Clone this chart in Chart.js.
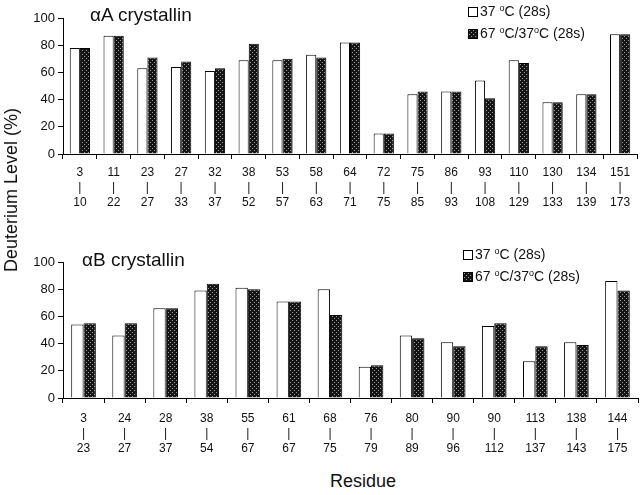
<!DOCTYPE html>
<html>
<head>
<meta charset="utf-8">
<script src="https://cdn.jsdelivr.net/npm/chart.js@4.4.0/dist/chart.umd.min.js"></script>
<style>
  body { margin: 0; background: #fff; font-family: "Liberation Sans", Arial, sans-serif; color: #111; }
  #wrap { position: relative; width: 640px; height: 495px; overflow: hidden; }
  canvas { position: absolute; left: 0; }
  .title { position: absolute; font-size: 19px; line-height: 1; white-space: nowrap; }
  .leg { position: absolute; font-size: 14px; line-height: 1; white-space: nowrap; }
  .leg span.box { display: inline-block; width: 8px; height: 8px; border: 1px solid #000; margin-right: 2px; vertical-align: -1px; background: #fff; }
  .leg sup { font-size: 9px; vertical-align: 5px; line-height: 0; }
  .axis-title { position: absolute; font-size: 18px; white-space: nowrap; line-height: 1; }
</style>
</head>
<body>
<div id="wrap">
  <canvas id="chartA" width="640" height="215" style="top:0"></canvas>
  <canvas id="chartB" width="640" height="215" style="top:240px"></canvas>

  <div class="title" style="left:90px; top:5px">&alpha;A crystallin</div>
  <div class="title" style="left:82px; top:250px">&alpha;B crystallin</div>

  <div class="leg" style="left:468px; top:4px"><span class="box"></span>37 <sup>o</sup>C (28s)</div>
  <div class="leg" style="left:468px; top:26px"><span class="box dark"></span>67 <sup>o</sup>C/37<sup>o</sup>C (28s)</div>
  <div class="leg" style="left:463px; top:247px"><span class="box"></span>37 <sup>o</sup>C (28s)</div>
  <div class="leg" style="left:463px; top:269px"><span class="box dark"></span>67 <sup>o</sup>C/37<sup>o</sup>C (28s)</div>

  <div class="axis-title" style="left:11px; top:190px; transform: translate(-50%,-50%) rotate(-90deg)">Deuterium Level (%)</div>
  <div class="axis-title" style="left:363px; top:481px; transform: translate(-50%,-50%)">Residue</div>
</div>
<script>
// alpha A crystallin, residue ranges and deuterium levels
const aStart = [3, 11, 23, 27, 32, 38, 53, 58, 64, 72, 75, 86, 93, 110, 130, 134, 151];
const aEnd   = [10, 22, 27, 33, 37, 52, 57, 63, 71, 75, 85, 93, 108, 129, 133, 139, 173];
const a37    = [78, 87, 63, 64, 61, 69, 69, 73, 82, 15, 44, 46, 54, 69, 38, 44, 88];
const a67    = [78, 87, 71, 68, 63, 81, 70, 71, 82, 15, 46, 46, 41, 67, 38, 44, 88];

// alpha B crystallin
const bStart = [3, 24, 28, 38, 55, 61, 68, 76, 80, 90, 90, 113, 138, 144];
const bEnd   = [23, 27, 37, 54, 67, 67, 75, 79, 89, 96, 112, 137, 143, 175];
const b37    = [54, 46, 66, 79, 81, 71, 80, 23, 46, 41, 53, 27, 41, 86];
const b67    = [55, 55, 66, 84, 80, 71, 61, 24, 44, 38, 55, 38, 39, 79];

const seriesNames = ['37 \u00B0C (28s)', '67 \u00B0C/37\u00B0C (28s)'];
const yMin = 0, yMax = 100, yStep = 20;

// dotted dark fill like the scanned figure
const tile = document.createElement('canvas');
tile.width = 4; tile.height = 4;
const tctx = tile.getContext('2d');
tctx.fillStyle = '#151515';
tctx.fillRect(0, 0, 4, 4);
tctx.fillStyle = '#999';
tctx.fillRect(0, 0, 1, 1);
tctx.fillRect(2, 2, 1, 1);
const dots = tctx.createPattern(tile, 'repeat');
document.querySelectorAll('.box.dark').forEach(function (el) {
    el.style.backgroundImage = 'url(' + tile.toDataURL() + ')';
});

const font = 'Liberation Sans, Arial, sans-serif';

function makeChart(id, starts, ends, v1, v2, padTop, padRight, xHeight, xPad) {
    const labels = starts.map(function (s, i) { return [String(s), '|', String(ends[i])]; });
    return new Chart(document.getElementById(id).getContext('2d'), {
        type: 'bar',
        data: {
            labels: labels,
            datasets: [{
                label: seriesNames[0],
                data: v1,
                backgroundColor: '#fff',
                borderColor: '#000',
                borderWidth: 1,
                barPercentage: 1,
                categoryPercentage: 0.6
            }, {
                label: seriesNames[1],
                data: v2,
                backgroundColor: dots,
                borderColor: '#000',
                borderWidth: 1,
                barPercentage: 1,
                categoryPercentage: 0.6
            }]
        },
        options: {
            responsive: false,
            animation: false,
            layout: { padding: { top: padTop, right: padRight, left: 0, bottom: 0 } },
            plugins: { legend: { display: false }, tooltip: { enabled: false } },
            scales: {
                x: {
                    offset: true,
                    grid: { offset: true, drawOnChartArea: false, color: '#000', tickLength: 5 },
                    border: { color: '#000', width: 1 },
                    ticks: {
                        color: '#111', autoSkip: false, maxRotation: 0, padding: xPad,
                        font: { family: font, size: 12, lineHeight: 1.25 }
                    },
                    afterFit: function (s) { s.height = xHeight; }
                },
                y: {
                    min: yMin, max: yMax,
                    grid: { drawOnChartArea: false, color: '#000', tickLength: 5 },
                    border: { color: '#000', width: 1 },
                    ticks: { stepSize: yStep, color: '#111', padding: 3, font: { family: font, size: 13 } },
                    afterFit: function (s) { s.width = 63; }
                }
            }
        }
    });
}

makeChart('chartA', aStart, aEnd, a37, a67, 18, 3, 61, 6);
makeChart('chartB', bStart, bEnd, b37, b67, 22, 2, 57, 8);
</script>
</body>
</html>
